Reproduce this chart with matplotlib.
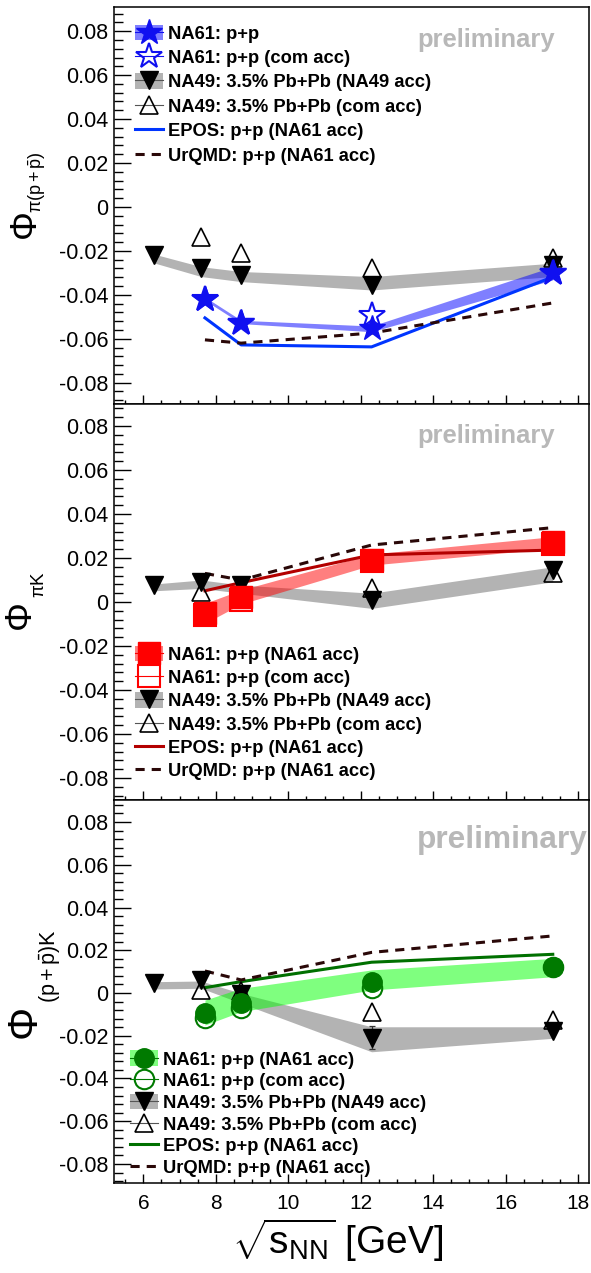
import matplotlib
matplotlib.use('Agg')
import matplotlib.pyplot as plt
from matplotlib.lines import Line2D
from matplotlib.patches import Patch
from matplotlib.legend_handler import HandlerTuple
from matplotlib.ticker import MultipleLocator, FuncFormatter

plt.rcParams['font.family'] = ['Liberation Sans', 'DejaVu Sans']
plt.rcParams['axes.unicode_minus'] = False
plt.rcParams['mathtext.fontset'] = 'custom'
plt.rcParams['mathtext.rm'] = 'Liberation Sans'
plt.rcParams['mathtext.it'] = 'Liberation Sans:italic'
plt.rcParams['mathtext.default'] = 'regular'

# energies sqrt(s_NN) [GeV]
e_na49 = [6.3, 7.6, 8.7, 12.3, 17.3]
e_na49_com = [7.6, 8.7, 12.3, 17.3]
e_na61 = [7.7, 8.7, 12.3, 17.3]

# Phi_pi(p+pbar)
pip_na61 = [-0.0419, -0.0525, -0.0552, -0.0295]
pip_na61_lo = [-0.0425, -0.0531, -0.0568, -0.0332]
pip_na61_hi = [-0.0410, -0.0516, -0.0542, -0.0272]
pip_na61_com = [-0.0420, -0.0530, -0.0490, -0.0300]
pip_na49 = [-0.0218, -0.0278, -0.0310, -0.0355, -0.0264]
pip_na49_lo = [-0.0255, -0.0317, -0.0340, -0.0378, -0.0317]
pip_na49_hi = [-0.0215, -0.0272, -0.0294, -0.0317, -0.0256]
pip_na49_err = [0.0, 0.0, 0.0, 0.0, 0.0]
pip_na49_com = [-0.0136, -0.0210, -0.0278, -0.0233]
pip_epos = [-0.0505, -0.0628, -0.0637, -0.0319]
pip_urqmd = [-0.0605, -0.0620, -0.0574, -0.0437]

# Phi_piK
pik_na61 = [-0.0052, 0.0024, 0.0190, 0.0274]
pik_na61_lo = [-0.0097, -0.0009, 0.0168, 0.0244]
pik_na61_hi = [-0.0006, 0.0055, 0.0218, 0.0297]
pik_na61_com = [-0.0060, 0.0010, 0.0185, 0.0265]
pik_na49 = [0.0077, 0.0092, 0.0077, 0.0009, 0.0145]
pik_na49_lo = [0.0051, 0.0062, 0.0040, -0.0029, 0.0092]
pik_na49_hi = [0.0082, 0.0100, 0.0077, 0.0040, 0.0160]
pik_na49_err = [0.0, 0.0, 0.0, 0.0, 0.0]
pik_na49_com = [0.0047, 0.0070, 0.0065, 0.0130]
pik_epos = [0.0051, 0.0088, 0.0214, 0.0236]
pik_urqmd = [0.0130, 0.0100, 0.0259, 0.0338]

# Phi_(p+pbar)K
pk_na61 = [-0.0095, -0.0048, 0.0053, 0.0123]
pk_na61_lo = [-0.0150, -0.0087, 0.0014, 0.0076]
pk_na61_hi = [-0.0033, 0.0022, 0.0108, 0.0162]
pk_na61_com = [-0.0117, -0.0070, 0.0023, 0.0123]
pk_na49 = [0.0045, 0.0061, -0.0006, -0.0209, -0.0178]
pk_na49_lo = [0.0019, 0.0022, -0.0048, -0.0275, -0.0212]
pk_na49_hi = [0.0053, 0.0056, -0.0002, -0.0158, -0.0158]
pk_na49_err = [0.0, 0.0, 0.0, 0.0055, 0.0]
pk_na49_com = [0.0014, 0.0010, -0.0087, -0.0126]
pk_epos = [0.0025, 0.0053, 0.0144, 0.0181]
pk_urqmd = [0.0103, 0.0061, 0.0190, 0.0267]

labels = ['NA61: p+p', 'NA61: p+p (com acc)', 'NA49: 3.5% Pb+Pb (NA49 acc)',
          'NA49: 3.5% Pb+Pb (com acc)', 'EPOS: p+p (NA61 acc)', 'UrQMD: p+p (NA61 acc)']
labels_acc = ['NA61: p+p (NA61 acc)'] + labels[1:]

W, H = 591, 1273
GRAY = '#b3b3b3'
URQMD_COL = '#2a0808'

fig = plt.figure(figsize=(W / 100, H / 100), dpi=100)


def fy(px):
    return 1 - px / H


def make_axes(top, bottom, ylim):
    ax = fig.add_axes([114 / W, fy(bottom), (589 - 114) / W, (bottom - top) / H])
    ax.set_xlim(5.19, 18.30)
    ax.set_ylim(*ylim)
    ax.yaxis.set_major_locator(MultipleLocator(0.02))
    ax.yaxis.set_minor_locator(MultipleLocator(0.004))
    ax.xaxis.set_major_locator(MultipleLocator(2))
    ax.xaxis.set_minor_locator(MultipleLocator(0.5))
    ax.yaxis.set_major_formatter(FuncFormatter(lambda v, p: '0' if abs(v) < 1e-9 else '%.2f' % v))
    ax.tick_params(axis='y', which='major', direction='in', length=12, width=1.0, labelsize=15.5, pad=4)
    ax.tick_params(axis='y', which='minor', direction='in', length=6.5, width=1.0)
    ax.tick_params(axis='x', which='major', direction='in', length=6.5, width=1.0, labelsize=15, pad=8)
    ax.tick_params(axis='x', which='minor', direction='in', length=3.2, width=1.0)
    for s in ax.spines.values():
        s.set_linewidth(1.1)
    return ax


def draw_panel(ax, na61, lo61, hi61, com61, na49, lo49, hi49, err49, com49, epos, urqmd,
               col, band_col, epos_col, mk, ms, labs, leg_top, spacing, leg_left):
    ax.fill_between(e_na49, lo49, hi49, color=GRAY, lw=0, zorder=1)
    ax.fill_between(e_na61, lo61, hi61, color=band_col, alpha=0.5, lw=0, zorder=2)
    ax.plot(e_na61, epos, color=epos_col, lw=2.2, zorder=3)
    ax.plot(e_na61, urqmd, color=URQMD_COL, lw=2.2, ls=(0, (3, 2.3)), zorder=3)
    ax.errorbar(e_na49, na49, yerr=err49, fmt='none', ecolor='#333333', elinewidth=0.9,
                capsize=2.5, capthick=0.9, zorder=4)
    ax.plot(e_na49, na49, 'v', ms=13, color='k', zorder=5)
    ax.plot(e_na49_com, com49, '^', ms=13, mfc='none', mec='k', mew=1.2, zorder=6)
    ax.plot(e_na61, com61, mk, ms=ms, mfc='none', mec=col, mew=1.5, zorder=7)
    ax.plot(e_na61, na61, mk, ms=ms, color=col, zorder=8)

    handles = [
        (Patch(fc=band_col, alpha=0.5, lw=0), Line2D([], [], color=col, lw=0.8),
         Line2D([], [], marker=mk, ms=ms, color=col, ls='none')),
        (Line2D([], [], color=col, lw=0.8),
         Line2D([], [], marker=mk, ms=ms, mfc='none', mec=col, mew=1.5, ls='none')),
        (Patch(fc=GRAY, lw=0), Line2D([], [], color='#555555', lw=0.8),
         Line2D([], [], marker='v', ms=13, color='k', ls='none')),
        (Line2D([], [], color='#555555', lw=0.8),
         Line2D([], [], marker='^', ms=13, mfc='none', mec='k', mew=1.2, ls='none')),
        Line2D([], [], color=epos_col, lw=2.2),
        Line2D([], [], color=URQMD_COL, lw=2.2, ls=(0, (3, 2.3))),
    ]
    ax.legend(handles, labs, handler_map={tuple: HandlerTuple(ndivide=1)},
              loc='upper left', bbox_to_anchor=(leg_left / W, fy(leg_top)),
              bbox_transform=fig.transFigure, frameon=False, numpoints=1,
              prop={'weight': 'bold', 'size': 13.2}, borderpad=0, borderaxespad=0,
              handlelength=1.53, handleheight=0.93, handletextpad=0.27,
              labelspacing=spacing)


ax1 = make_axes(7, 404, (-0.0897, 0.0910))
ax2 = make_axes(404, 800, (-0.090, 0.090))
ax3 = make_axes(800, 1183, (-0.0889, 0.0903))
ax1.tick_params(labelbottom=False)
ax2.tick_params(labelbottom=False)

draw_panel(ax1, pip_na61, pip_na61_lo, pip_na61_hi, pip_na61_com, pip_na49, pip_na49_lo,
           pip_na49_hi, pip_na49_err, pip_na49_com, pip_epos, pip_urqmd, '#1010f0', '#0000ff',
           '#0035ff', '*', 19, labels, 24.5, 0.345, 135)
draw_panel(ax2, pik_na61, pik_na61_lo, pik_na61_hi, pik_na61_com, pik_na49, pik_na49_lo,
           pik_na49_hi, pik_na49_err, pik_na49_com, pik_epos, pik_urqmd, '#ff0000', '#ff0000',
           '#b30000', 's', 16, labels_acc, 645.5, 0.285, 135)
draw_panel(ax3, pk_na61, pk_na61_lo, pk_na61_hi, pk_na61_com, pk_na49, pk_na49_lo,
           pk_na49_hi, pk_na49_err, pk_na49_com, pk_epos, pk_urqmd, '#007a00', '#00ff00',
           '#007000', 'o', 14, labels_acc, 1050.5, 0.195, 130)

# y titles: big Phi plus subscript
titles = [
    ((25, 223.5), 26, (37, 182), r'$\pi(p+\bar{p})$', 13),
    ((20, 615), 26, (40, 584), r'$\pi K$', 13.5),
    ((25, 1021), 30, (50, 966), r'$(p+\bar{p})K$', 15.5),
]
for (phi_x, phi_y), phi_size, (sub_x, sub_y), sub, sub_size in titles:
    fig.text(phi_x / W, fy(phi_y), '\u03a6', rotation=90, ha='center', va='center', fontsize=phi_size)
    fig.text(sub_x / W, fy(sub_y), sub, rotation=90, ha='center', va='center', fontsize=sub_size)

# x title
fig.text(338 / W, fy(1240), r'$\sqrt{s_{NN}}$ [GeV]', ha='center', va='center', fontsize=28)

# preliminary labels
fig.text(417 / W, fy(47), 'preliminary', fontsize=18.4, fontweight='bold', color='#b8b8b8', va='baseline')
fig.text(417 / W, fy(443), 'preliminary', fontsize=18.4, fontweight='bold', color='#b8b8b8', va='baseline')
fig.text(417 / W, fy(848), 'preliminary', fontsize=22.8, fontweight='bold', color='#b8b8b8', va='baseline')

fig.savefig('out.png', dpi=100)
